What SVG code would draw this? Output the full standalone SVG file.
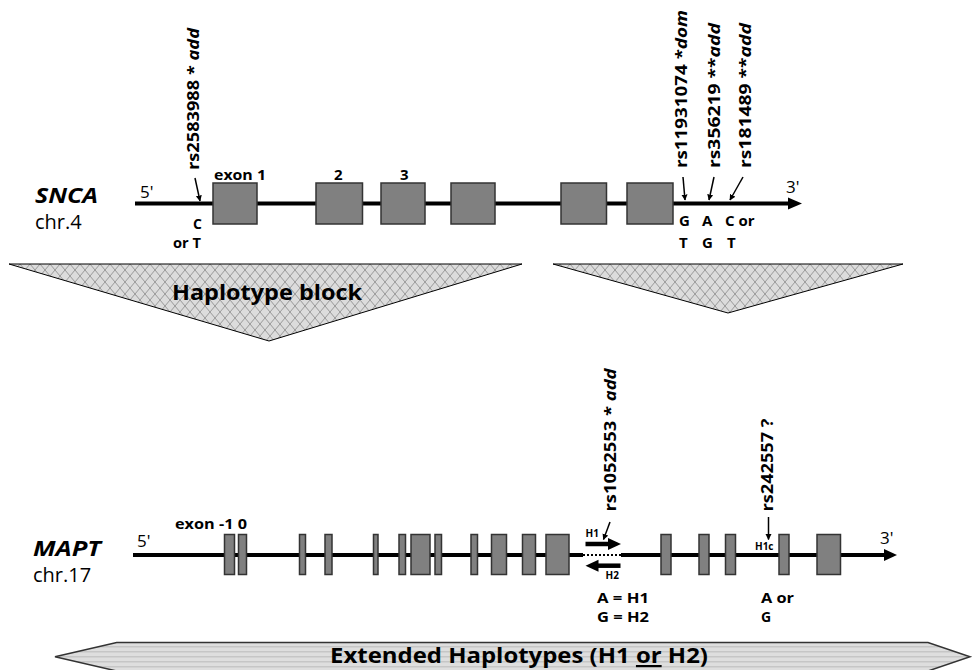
<svg xmlns="http://www.w3.org/2000/svg" width="975" height="670" viewBox="0 0 975 670">
<style>
text{font-family:"Open Sans","Noto Sans","DejaVu Sans",sans-serif;fill:#000}
.b{font-weight:bold}
.bi{font-weight:bold;font-style:italic}
.snp{font-size:16px;font-weight:bold}
.sm{font-size:15px;font-weight:bold}
.al{font-size:14px;font-weight:bold}
.xs{font-size:10px;font-weight:bold}
.prime{font-size:17px}
.exon{fill:#808080;stroke:#333;stroke-width:1.5}
.chrom{stroke:#000;stroke-width:4;fill:none}
.ptr{stroke:#000;stroke-width:1.5;fill:none;marker-end:url(#ah)}
</style>
<defs>
<marker id="ah" viewBox="0 0 10 10" refX="9" refY="5" markerWidth="6" markerHeight="7" markerUnits="userSpaceOnUse" orient="auto">
<path d="M0,0 L10,5 L0,10 z" fill="#000"/>
</marker>
<pattern id="hatch" width="10" height="12" patternUnits="userSpaceOnUse">
<rect width="10" height="12" fill="#dcdcdc"/>
<path d="M0,0 L10,12 M10,0 L0,12" stroke="#9a9a9a" stroke-width="1"/>
</pattern>
<pattern id="stripe" width="10" height="5" patternUnits="userSpaceOnUse" y="643">
<rect width="10" height="5" fill="#dedede"/>
<rect y="3" width="10" height="1.5" fill="#c6c6c6"/>
</pattern>
</defs>

<g id="snca-gene">
<text x="35" y="203" class="bi" font-size="22" textLength="63" lengthAdjust="spacingAndGlyphs">SNCA</text>
<text x="35" y="229" font-size="20">chr.4</text>
<text x="140" y="198" class="prime">5'</text>
<text x="786" y="193" class="prime">3'</text>
<line x1="135" y1="203.5" x2="790" y2="203.5" class="chrom"/>
<path d="M788,197.5 L802,203.5 L788,209.5 z" fill="#000"/>
<rect class="exon" x="213" y="183" width="44" height="41"/>
<rect class="exon" x="316" y="183" width="46.5" height="41"/>
<rect class="exon" x="381" y="183" width="44" height="41"/>
<rect class="exon" x="451" y="183" width="44" height="41"/>
<rect class="exon" x="561" y="183" width="45.5" height="41"/>
<rect class="exon" x="627" y="183" width="46" height="41"/>
<text x="214" y="180" class="sm" textLength="52" lengthAdjust="spacingAndGlyphs">exon 1</text>
<text x="334" y="180" class="sm">2</text>
<text x="400" y="180" class="sm">3</text>
</g>

<g id="snp-rs2583988">
<text class="snp" transform="translate(199,170) rotate(-90)" textLength="142" lengthAdjust="spacingAndGlyphs">rs2583988 * <tspan font-style="italic">add</tspan></text>
<text x="193" y="229" class="al">C</text>
<text x="173" y="248" class="al" textLength="28" lengthAdjust="spacingAndGlyphs">or T</text>
</g>
<g id="snp-rs11931074">
<text class="snp" transform="translate(687,168) rotate(-90)" textLength="158" lengthAdjust="spacingAndGlyphs">rs11931074 *<tspan font-style="italic">dom</tspan></text>
<text x="679" y="226" class="sm">G</text>
<text x="679" y="248" class="sm">T</text>
</g>
<g id="snp-rs356219">
<text class="snp" transform="translate(720,168) rotate(-90)" textLength="145" lengthAdjust="spacingAndGlyphs">rs356219 **<tspan font-style="italic">add</tspan></text>
<text x="702" y="226" class="sm">A</text>
<text x="702" y="248" class="sm">G</text>
</g>
<g id="snp-rs181489">
<text class="snp" transform="translate(751,168) rotate(-90)" textLength="145" lengthAdjust="spacingAndGlyphs">rs181489 **<tspan font-style="italic">add</tspan></text>
<text x="725" y="226" class="sm">C or</text>
<text x="727" y="248" class="sm">T</text>
</g>

<g id="haplotype-block-left">
<polygon points="9,264 522,264 269,341" fill="url(#hatch)" stroke="#000" stroke-width="1"/>
<text x="172" y="300" class="b" font-size="21" textLength="190" lengthAdjust="spacingAndGlyphs">Haplotype block</text>
</g>
<g id="haplotype-block-right">
<polygon points="553,264 903,264 728,313" fill="url(#hatch)" stroke="#000" stroke-width="1"/>
</g>

<g id="mapt-gene">
<text x="33" y="556" class="bi" font-size="22" textLength="68" lengthAdjust="spacingAndGlyphs">MAPT</text>
<text x="33" y="582" font-size="20">chr.17</text>
<text x="137" y="547" class="prime">5'</text>
<text x="880" y="544" class="prime">3'</text>
<line x1="133" y1="555" x2="583" y2="555" class="chrom" stroke-width="3.5"/>
<line x1="583" y1="555" x2="621" y2="555" stroke="#000" stroke-width="2" stroke-dasharray="2,2"/>
<line x1="621" y1="555" x2="886" y2="555" class="chrom" stroke-width="3.5"/>
<path d="M884,549 L897,555 L884,561 z" fill="#000"/>
<rect class="exon" x="224.5" y="534.5" width="10" height="40"/>
<rect class="exon" x="238.5" y="534.5" width="8" height="40"/>
<rect class="exon" x="299.5" y="534.5" width="6" height="40"/>
<rect class="exon" x="325" y="534.5" width="7" height="40"/>
<rect class="exon" x="373.5" y="534.5" width="4.5" height="40"/>
<rect class="exon" x="399" y="534.5" width="6.5" height="40"/>
<rect class="exon" x="411" y="534.5" width="19" height="40"/>
<rect class="exon" x="435" y="534.5" width="6.5" height="40"/>
<rect class="exon" x="471" y="534.5" width="6.5" height="40"/>
<rect class="exon" x="491.5" y="534.5" width="15" height="40"/>
<rect class="exon" x="522.5" y="534.5" width="13" height="40"/>
<rect class="exon" x="546" y="534.5" width="23" height="40"/>
<rect class="exon" x="661" y="534.5" width="10" height="40"/>
<rect class="exon" x="699" y="534.5" width="10" height="40"/>
<rect class="exon" x="725.5" y="534.5" width="10" height="40"/>
<rect class="exon" x="779" y="534.5" width="10" height="40"/>
<rect class="exon" x="817" y="534.5" width="23.5" height="40"/>
<text x="175" y="529" class="sm" textLength="72" lengthAdjust="spacingAndGlyphs">exon -1 0</text>
</g>

<g id="snp-rs1052553">
<text class="snp" transform="translate(616,511.5) rotate(-90)" textLength="143" lengthAdjust="spacingAndGlyphs">rs1052553 * <tspan font-style="italic">add</tspan></text>
<text x="585.5" y="537" class="xs">H1</text>
<text x="605.5" y="578.5" class="xs">H2</text>
<path d="M585.5,544 L609,544" stroke="#000" stroke-width="4.5"/>
<path d="M608,538 L621,544 L608,550 z" fill="#000"/>
<path d="M597,565.7 L620.5,565.7" stroke="#000" stroke-width="4.5"/>
<path d="M598.5,559.7 L585.5,565.7 L598.5,571.7 z" fill="#000"/>
<text x="597" y="603" class="al" textLength="52" lengthAdjust="spacingAndGlyphs">A = H1</text>
<text x="597" y="622" class="al" textLength="52" lengthAdjust="spacingAndGlyphs">G = H2</text>
</g>
<g id="snp-rs242557">
<text class="snp" transform="translate(772.5,511.5) rotate(-90)" textLength="93" lengthAdjust="spacingAndGlyphs">rs242557 ?</text>
<text x="755" y="550" class="xs">H1c</text>
<text x="761" y="603" class="al" textLength="33" lengthAdjust="spacingAndGlyphs">A or</text>
<text x="761" y="622" class="al">G</text>
</g>

<g id="connectors">
<line class="ptr" x1="195" y1="178" x2="200" y2="201"/>
<line class="ptr" x1="683" y1="177" x2="685" y2="200"/>
<line class="ptr" x1="714" y1="177" x2="709" y2="200"/>
<line class="ptr" x1="743" y1="177" x2="730" y2="200"/>
<line class="ptr" x1="610" y1="522" x2="603.5" y2="539.5"/>
<line class="ptr" x1="768.5" y1="517" x2="768.5" y2="539.5"/>
</g>

<g id="extended-haplotypes">
<polygon points="55,656.7 116.7,642.5 928,642.5 970,656.7 928,671 116.7,671" fill="url(#stripe)" stroke="#333" stroke-width="1.5"/>
<text x="330" y="663" class="b" font-size="22" textLength="378" lengthAdjust="spacingAndGlyphs">Extended Haplotypes (H1 <tspan text-decoration="underline">or</tspan> H2)</text>
</g>
</svg>
